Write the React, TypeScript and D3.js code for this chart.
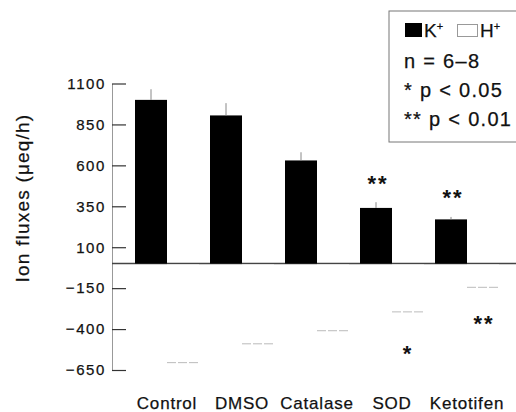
import React, { useEffect, useRef } from 'react';
import * as d3 from 'd3';

// values (µeq/h)
const categories = ['Control', 'DMSO', 'Catalase', 'SOD', 'Ketotifen'];
const kFlux = [1000, 905, 630, 340, 270];
const kErr = [65, 75, 50, 35, 15];
const hFlux = [-605, -490, -410, -295, -145];
const hErr = [0, 0, 0, 75, 45];
const kSig = ['', '', '', '**', '**'];
const hSig = ['', '', '', '*', '**'];
const yTicks = [1100, 850, 600, 350, 100, -150, -400, -650];
const legendLines = ['n = 6\u20138', '* p < 0.05', '** p < 0.01'];

const W = 516, H = 412;
const font = '"Liberation Sans", Arial, Helvetica, sans-serif';

export default function App() {
    const axisRef = useRef<SVGGElement>(null);

    const y = d3.scaleLinear().domain([-650, 1100]).range([370, 83.5]);
    const x = d3.scaleBand<string>()
        .domain(categories)
        .range([129.5, 504.5])
        .paddingInner(11 / 75)
        .paddingOuter(11 / 150);
    const xs = d3.scaleBand<string>().domain(['K', 'H']).range([0, x.bandwidth()]);
    const axisX = 112;

    useEffect(() => {
        const g = d3.select(axisRef.current);
        g.selectAll('*').remove();
        g.call(d3.axisLeft(y)
            .tickValues(yTicks)
            .tickSize(-14)
            .tickSizeOuter(0)
            .tickPadding(6)
            .tickFormat(d3.format('d')));
        g.attr('font-family', font).attr('font-size', 15);
        g.select('.domain').attr('stroke', '#999');
        g.selectAll('.tick line').attr('stroke', '#333').attr('stroke-width', 1.2);
        g.selectAll('.tick text').attr('fill', '#111').attr('letter-spacing', 1.6)
            .attr('stroke', '#111').attr('stroke-width', 0.25);
    }, []);

    const ink = { fill: '#111', stroke: '#111', strokeWidth: 0.25 };

    return (
        <svg width={W} height={H} style={{ position: 'absolute', left: 0, top: 0, background: '#fff' }}
             fontFamily={font}>
            <g ref={axisRef} transform={`translate(${axisX},0)`} />

            {/* zero line */}
            <line x1={axisX} x2={W} y1={y(0)} y2={y(0)} stroke="#444" strokeWidth={1.5} />

            {categories.map((c, i) => {
                const kx = x(c)! + xs('K')!;
                const hx = x(c)! + xs('H')!;
                const bw = xs.bandwidth();
                return (
                    <g key={c}>
                        <rect x={kx} y={y(kFlux[i])} width={bw} height={y(0) - y(kFlux[i])} fill="#000" />
                        <line x1={kx + bw / 2} x2={kx + bw / 2} y1={y(kFlux[i])} y2={y(kFlux[i] + kErr[i])}
                              stroke="#888" strokeWidth={1} />
                        <rect x={hx} y={y(0) + 1} width={bw} height={y(hFlux[i]) - y(0) - 1} fill="#fff" />
                        <line x1={hx} x2={hx + bw} y1={y(hFlux[i])} y2={y(hFlux[i])}
                              stroke="#aaa" strokeWidth={0.8} strokeDasharray="9 2" />
                        {kSig[i] && (
                            <text x={kx + bw / 2 + 2} y={y(kFlux[i] + kErr[i]) - 24 + 12.5} textAnchor="middle"
                                  fontSize={22} letterSpacing={2} fontWeight="bold" fill="#111">{kSig[i]}</text>
                        )}
                        {hSig[i] && (
                            <text x={hx + bw / 2 + (hSig[i].length > 1 ? 1 : 0)} y={y(hFlux[i] - hErr[i]) + 24 + 12.5}
                                  textAnchor="middle" fontSize={22} letterSpacing={2} fontWeight="bold"
                                  fill="#111">{hSig[i]}</text>
                        )}
                        <text x={x(c)! + x.bandwidth() / 2} y={409} textAnchor="middle" fontSize={17}
                              letterSpacing={0.8} {...ink}>{c}</text>
                    </g>
                );
            })}

            {/* y axis title */}
            <text transform={`translate(29,198) rotate(-90)`} textAnchor="middle" fontSize={19}
                  letterSpacing={1.2} {...ink}>Ion fluxes (μeq/h)</text>

            {/* legend */}
            <g>
                <rect x={389} y={11} width={140} height={131} fill="#fff" stroke="#777" strokeWidth={1} />
                <rect x={405} y={23} width={17} height={14} fill="#000" />
                <text x={424} y={37} fontSize={19} {...ink}>K<tspan fontSize={11} dy={-7}>+</tspan></text>
                <rect x={457.5} y={24.5} width={20} height={12} fill="#fff" stroke="#999" />
                <text x={480} y={37} fontSize={19} {...ink}>H<tspan fontSize={11} dy={-7}>+</tspan></text>
                {legendLines.map((t, i) => (
                    <text key={t} x={404} y={68 + i * 29} fontSize={20} letterSpacing={1.3} {...ink}>{t}</text>
                ))}
            </g>
        </svg>
    );
}
